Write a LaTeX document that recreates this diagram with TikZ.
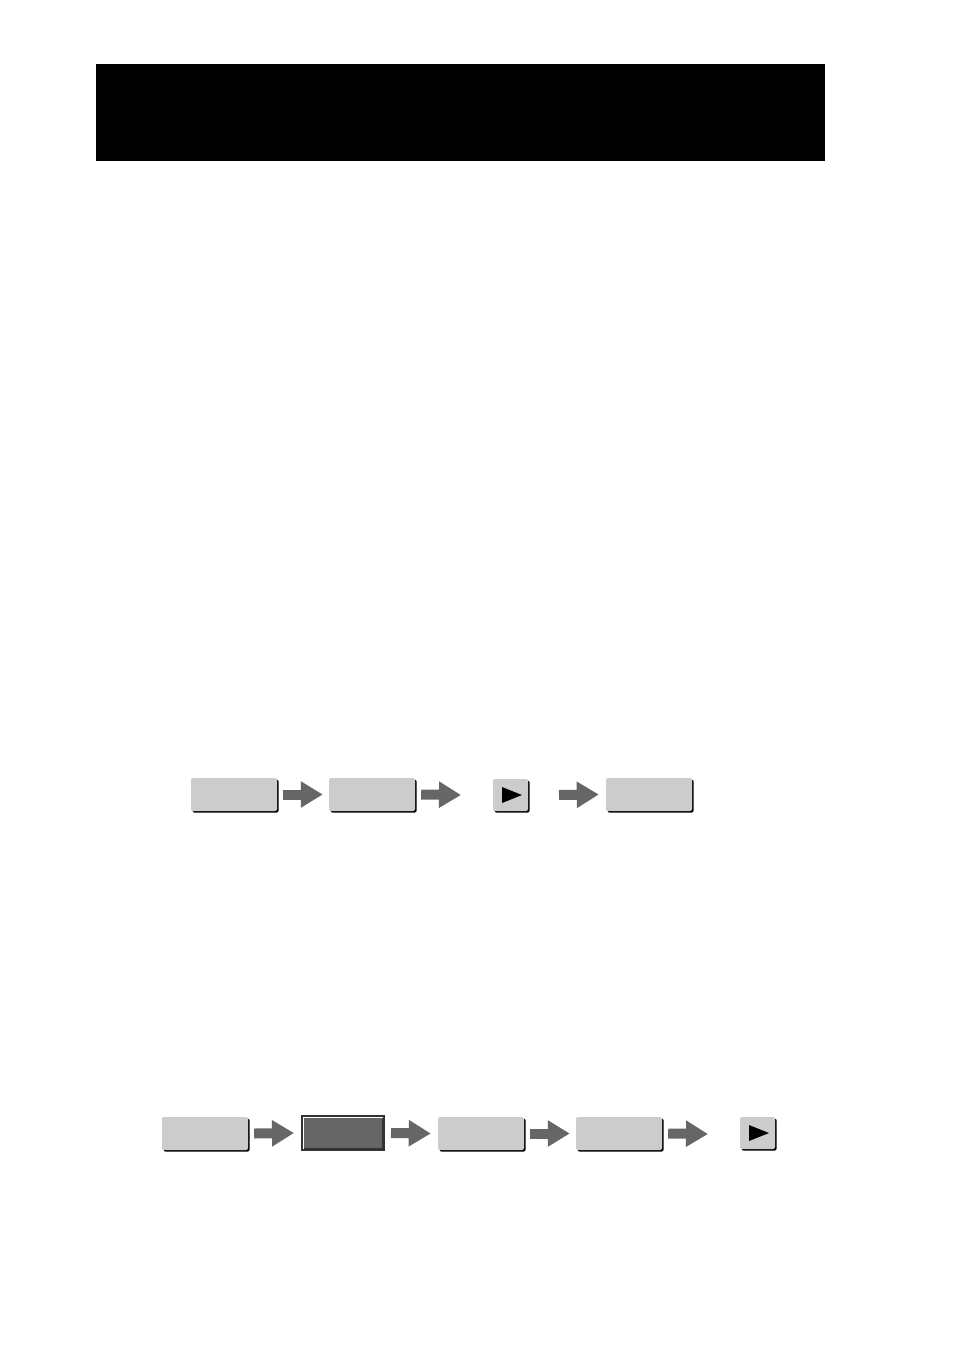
\documentclass[tikz,border=0pt]{standalone}
\usetikzlibrary{arrows.meta,shadows}
\definecolor{boxgray}{HTML}{CCCCCC}
\definecolor{arrowgray}{HTML}{666666}
\definecolor{darkedge}{HTML}{333333}
\begin{document}
\begin{tikzpicture}[x=1pt, y=-1pt,
	keybox/.style={rectangle, rounded corners=2pt, fill=boxgray, inner sep=0pt, minimum width=86pt, minimum height=33pt, general shadow={fill=black, shadow xshift=1.6pt, shadow yshift=-1.6pt}},
	playbox/.style={keybox, minimum width=35pt, minimum height=32pt},
	selbox/.style={rectangle, fill=arrowgray, draw=darkedge, line width=3pt, inner sep=0pt, minimum width=81pt, minimum height=33pt},
	fatarrow/.style={arrowgray, line width=10pt, -{Triangle[length=22pt, width=25pt]}}]
	\fill[white] (0,0) rectangle (954,1352);
	\useasboundingbox (0,0) rectangle (954,1352);
	\node[fill=black, inner sep=0pt, minimum width=729pt, minimum height=97pt, anchor=north west] (title) at (96,64) {};
	\node[keybox] (a1) at (234,794.5) {};
	\node[keybox] (a2) at (372,794.5) {};
	\node[playbox] (a3) at (510.5,795) {};
	\node[keybox] (a4) at (649,794.5) {};
	\coordinate (a2end) at (461,795);
	\coordinate (a4start) at (559,795);
	\draw[fatarrow] ([xshift=6pt]a1.east) -- ([xshift=-6pt]a2.west);
	\draw[fatarrow] ([xshift=6pt]a2.east) -- (a2end);
	\draw[fatarrow] (a4start) -- ([xshift=-7pt]a4.west);
	\fill[black] ([shift={(-8.5,-8)}]a3.center) -- ([shift={(-8.5,8)}]a3.center) -- ([shift={(11.5,0)}]a3.center) -- cycle;
	\node[keybox] (b1) at (205,1133.5) {};
	\node[selbox] (b2) at (343,1133) {};
	\node[keybox] (b3) at (481,1133.5) {};
	\node[keybox] (b4) at (619,1133.5) {};
	\node[playbox] (b5) at (757.5,1133) {};
	\coordinate (b4end) at (708,1134);
	\draw[white, line width=1.2pt] ([xshift=2.3pt, yshift=2.3pt]b2.south west) -- ([xshift=2.3pt, yshift=-2.3pt]b2.north west) -- ([xshift=-2.3pt, yshift=-2.3pt]b2.north east);
	\draw[fatarrow] ([xshift=6pt]b1.east) -- ([xshift=-7pt]b2.west);
	\draw[fatarrow] ([xshift=6pt]b2.east) -- ([xshift=-7pt]b3.west);
	\draw[fatarrow] ([xshift=6pt]b3.east) -- ([xshift=-6pt]b4.west);
	\draw[fatarrow] ([xshift=6pt]b4.east) -- (b4end);
	\fill[black] ([shift={(-8.5,-8)}]b5.center) -- ([shift={(-8.5,8)}]b5.center) -- ([shift={(11.5,0)}]b5.center) -- cycle;
\end{tikzpicture}
\end{document}
